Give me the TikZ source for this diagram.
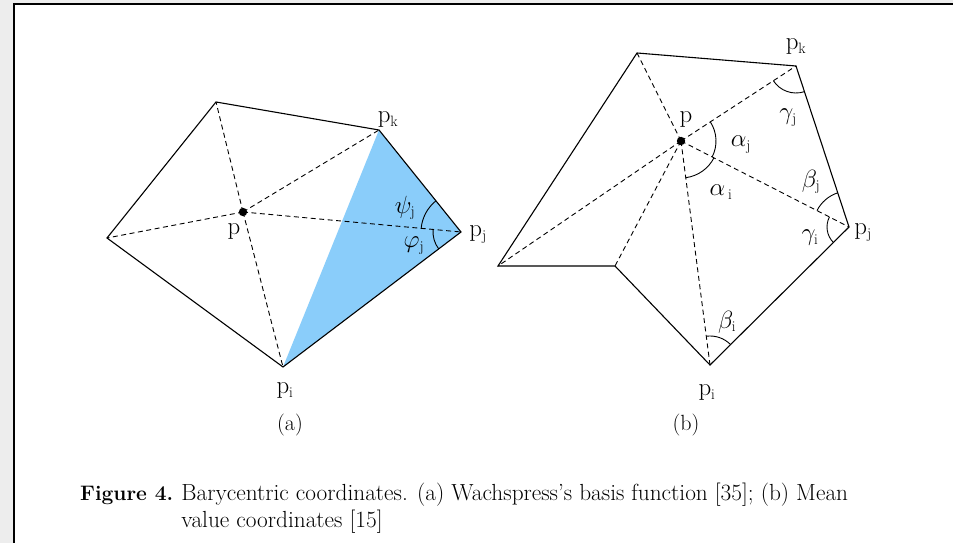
\documentclass[tikz,border=0pt]{standalone}
\usetikzlibrary{angles,calc}
\definecolor{skyfill}{RGB}{138,205,250}
\newcommand{\subx}[1]{\mbox{\fontsize{15}{15}\selectfont #1}}
\begin{document}
\begin{tikzpicture}[x=1pt,y=1pt,
  edgeline/.style={line width=1.1pt, line join=miter},
  dashline/.style={line width=0.9pt, dash pattern=on 5pt off 3.5pt},
  arcline/.style={draw, line width=0.9pt},
  lbl/.style={inner sep=0pt, font=\fontsize{26}{30}\selectfont},
  sublbl/.style={inner sep=0pt, font=\fontsize{22}{26}\selectfont},
  captxt/.style={inner sep=0pt, font=\fontsize{23.3}{27}\selectfont}]
\useasboundingbox (0,0) rectangle (953,543);
\fill[black!7] (0,0) rectangle (953,543);
\fill[white] (14,0) rectangle (953,539);
\draw[line width=2.4pt] (14,-3) -- (14,539) -- (956,539);

% ---------- (a) ----------
\coordinate (aL) at (107,305);
\coordinate (aT) at (216,441);
\coordinate (aK) at (379,413);
\coordinate (aJ) at (461,311);
\coordinate (aI) at (283,176);
\coordinate (aP) at (243,331);
\fill[skyfill] (aI) -- (aK) -- (aJ) -- cycle;
\foreach \v in {aL,aT,aK,aJ,aI} \draw[dashline] (aP) -- (\v);
\draw[edgeline] (aL) -- (aT) -- (aK) -- (aJ) -- (aI) -- cycle;
\fill (aP) circle (4.2);
\pic[arcline, angle radius=40pt] {angle=aK--aJ--aP};
\pic[arcline, angle radius=28pt] {angle=aP--aJ--aI};
\node[lbl] (lap) at (234,311) {$\mathrm{p}$};
\node[lbl] (lak) at (388,423) {$\mathrm{p}_{\subx{k}}$};
\node[lbl] (laj) at (478,308) {$\mathrm{p}_{\subx{j}}$};
\node[lbl] (lai) at (285,152) {$\mathrm{p}_{\subx{i}}$};
\node[lbl] (lpsi) at (405,335) {$\psi_{\subx{j}}$};
\node[lbl] (lphi) at (414,297) {$\varphi_{\subx{j}}$};
\node[sublbl] (capa) at (290,118) {(a)};

% ---------- (b) ----------
\coordinate (bL) at (498,277);
\coordinate (bT) at (637,490);
\coordinate (bK) at (796,477);
\coordinate (bJ) at (849,316);
\coordinate (bI) at (710,178);
\coordinate (bR) at (615,277);
\coordinate (bP) at (681,402);
\foreach \v in {bL,bT,bK,bJ,bI,bR} \draw[dashline] (bP) -- (\v);
\draw[edgeline] (bL) -- (bT) -- (bK) -- (bJ) -- (bI) -- (bR) -- cycle;
\fill (bP) circle (4.2);
\pic[arcline, angle radius=27pt] {angle=bP--bK--bJ};
\pic[arcline, angle radius=35pt] {angle=bJ--bP--bK};
\pic[arcline, angle radius=37pt] {angle=bI--bP--bJ};
\pic[arcline, angle radius=36pt] {angle=bK--bJ--bP};
\pic[arcline, angle radius=22pt] {angle=bP--bJ--bI};
\pic[arcline, angle radius=29pt] {angle=bJ--bI--bP};
\node[lbl] (lbp) at (686,423) {$\mathrm{p}$};
\node[lbl] (lbk) at (796,496) {$\mathrm{p}_{\subx{k}}$};
\node[lbl] (lbj) at (863,310) {$\mathrm{p}_{\subx{j}}$};
\node[lbl] (lbi) at (707,150) {$\mathrm{p}_{\subx{i}}$};
\node[lbl] (lgj) at (788,425) {$\gamma_{\subx{j}}$};
\node[lbl] (laj2) at (741,398) {$\alpha_{\subx{j}}$};
\node[lbl] (lai2) at (721,351) {$\alpha_{\,\subx{i}}$};
\node[lbl] (lbj2) at (811,361) {$\beta_{\subx{j}}$};
\node[lbl] (lgi) at (810,305) {$\gamma_{\subx{i}}$};
\node[lbl] (lbi2) at (727,221) {$\beta_{\subx{i}}$};
\node[sublbl] (capb) at (686,118) {(b)};

% ---------- caption ----------
\node[captxt, anchor=base west] (cap) at (80,42) {\begin{tabular}[t]{@{}l@{\hspace{0.35em}}l@{}}{\fontsize{21}{27}\selectfont\textbf{Figure 4.}} & Barycentric coordinates. (a) Wachspress's basis function [35]; (b) Mean\\ & value coordinates [15]\end{tabular}};
\end{tikzpicture}
\end{document}
